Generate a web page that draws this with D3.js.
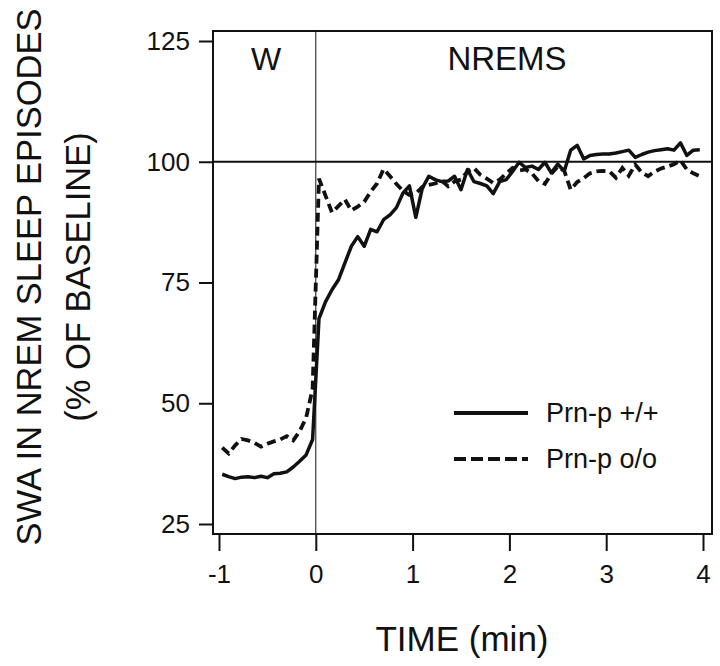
<!DOCTYPE html>
<html>
<head>
<meta charset="utf-8">
<script src="https://cdn.jsdelivr.net/npm/d3@7"></script>
<style>
  html, body { margin: 0; padding: 0; background: #fff; }
  svg text { font-family: "Liberation Sans", Arial, Helvetica, sans-serif; fill: #111; }
</style>
</head>
<body>
<svg id="chart" width="720" height="666"></svg>
<script>
// ---- data, 4-s bins ----
const timePre = [-0.967, -0.9, -0.833, -0.767, -0.7, -0.633, -0.567, -0.5, -0.433, -0.367, -0.3, -0.233, -0.167, -0.1, -0.033];
const timePost = [0.033, 0.1, 0.167, 0.233, 0.3, 0.367, 0.433, 0.5, 0.567, 0.633, 0.7, 0.767, 0.833, 0.9, 0.967,
  1.033, 1.1, 1.167, 1.233, 1.3, 1.367, 1.433, 1.5, 1.567, 1.633, 1.7, 1.767, 1.833, 1.9, 1.967,
  2.033, 2.1, 2.167, 2.233, 2.3, 2.367, 2.433, 2.5, 2.567, 2.633, 2.7, 2.767, 2.833, 2.9, 2.967,
  3.033, 3.1, 3.167, 3.233, 3.3, 3.367, 3.433, 3.5, 3.567, 3.633, 3.7, 3.767, 3.833, 3.9, 3.967];

const wildPre = [35.3, 34.8, 34.4, 34.7, 34.8, 34.6, 34.9, 34.6, 35.4, 35.5, 35.8, 36.8, 38.0, 39.3, 42.5];
const wildPost = [67.5, 71, 73.5, 75.5, 79, 82.5, 84.5, 82.5, 86, 85.5, 88, 89, 90.5, 93.5, 95,
  88.5, 94.5, 97, 96.3, 95.9, 96, 97, 94.2, 98.4, 95.9, 95.5, 95, 93.4, 95.9, 96.3,
  98, 99.9, 98.8, 99.1, 98.4, 99.9, 97.7, 99.5, 98.1, 102.4, 103.4, 100.6, 101.3, 101.5, 101.6,
  101.6, 101.8, 102.1, 102.4, 100.9, 101.5, 102, 102.3, 102.5, 102.7, 102.4, 103.9, 101.3, 102.4, 102.5];

const nullPre = [40.8, 39.6, 41.3, 42.6, 42.3, 41.8, 41.0, 41.6, 42.1, 42.5, 43.2, 42.3, 44.2, 47.0, 53.0];
const nullPost = [96.5, 93, 89.5, 90.8, 92.2, 89.9, 90.7, 91.7, 93.8, 95.5, 98.5, 97, 95.4, 94, 93.1,
  93.4, 94.8, 95.2, 95.5, 96.1, 94.9, 95.9, 96.3, 98, 98.7, 97.3, 96.5, 95.6, 96.3, 97.6,
  98.7, 98.2, 98.4, 97.6, 96, 95.4, 97.5, 99, 98.1, 94.2, 95.8, 96.6, 97.6, 98, 98.1,
  98, 96.7, 98.7, 97.1, 99.4, 97.8, 97, 98, 98.6, 99, 99.5, 100.3, 98.4, 97.6, 97];

const seriesNames = ["Prn-p +/+", "Prn-p o/o"];
const xTicks = [-1, 0, 1, 2, 3, 4];
const yTicks = [25, 50, 75, 100, 125];
const stateLabels = ["W", "NREMS"];
const xTitle = "TIME (min)";
const yTitle1 = "SWA IN NREM SLEEP EPISODES";
const yTitle2 = "(% OF BASELINE)";

// ---- layout ----
const box = { left: 213, right: 712, top: 31, bottom: 534 };
const svg = d3.select("#chart");

const x = d3.scaleLinear().domain([-1, 4]).range([219, 703]);
const y = d3.scaleLinear().domain([25, 125]).range([524, 41]);

const times = timePre.concat(timePost);
const wild = wildPre.concat(wildPost);
const nul = nullPre.concat(nullPost);
const wildData = times.map((t, i) => [t, wild[i]]);
const nullData = times.map((t, i) => [t, nul[i]]);

const ink = "#111";
const fontFam = "'Liberation Sans', Arial, sans-serif";

// frame
svg.append("rect")
  .attr("x", box.left).attr("y", box.top)
  .attr("width", box.right - box.left).attr("height", box.bottom - box.top)
  .attr("fill", "none").attr("stroke", ink).attr("stroke-width", 2);

// reference lines
svg.append("line")
  .attr("x1", box.left).attr("x2", box.right)
  .attr("y1", y(100)).attr("y2", y(100))
  .attr("stroke", ink).attr("stroke-width", 1.8);
svg.append("line")
  .attr("x1", x(0)).attr("x2", x(0))
  .attr("y1", box.top).attr("y2", box.bottom)
  .attr("stroke", ink).attr("stroke-width", 1);

// y axis
const yAxis = d3.axisLeft(y).tickValues(yTicks).tickSize(14).tickPadding(9).tickFormat(d => String(d));
const gy = svg.append("g").attr("transform", `translate(${box.left},0)`).call(yAxis);
gy.select(".domain").remove();
gy.selectAll(".tick line").attr("stroke", ink).attr("stroke-width", 2);
gy.selectAll(".tick text").attr("font-size", 26).attr("fill", ink).style("font-family", fontFam);

// x axis
const xAxis = d3.axisBottom(x).tickValues(xTicks).tickSize(17).tickPadding(14).tickFormat(d => String(d));
const gx = svg.append("g").attr("transform", `translate(0,${box.bottom})`).call(xAxis);
gx.select(".domain").remove();
gx.selectAll(".tick line").attr("stroke", ink).attr("stroke-width", 2);
gx.selectAll(".tick text").attr("font-size", 26).attr("fill", ink).style("font-family", fontFam);

// axis titles
svg.append("text").attr("x", 462).attr("y", 651)
  .attr("text-anchor", "middle").attr("font-size", 35).text(xTitle);
svg.append("text")
  .attr("transform", "translate(41,277) rotate(-90)")
  .attr("text-anchor", "middle").attr("font-size", 34.5).text(yTitle1);
svg.append("text")
  .attr("transform", "translate(90,277) rotate(-90)")
  .attr("text-anchor", "middle").attr("font-size", 34.5).text(yTitle2);

// state labels
svg.append("text").attr("x", 266).attr("y", 70)
  .attr("text-anchor", "middle").attr("font-size", 32).text(stateLabels[0]);
svg.append("text").attr("x", 507).attr("y", 70)
  .attr("text-anchor", "middle").attr("font-size", 33).text(stateLabels[1]);

// lines
const line = d3.line().x(d => x(d[0])).y(d => y(d[1]));
svg.append("path").datum(wildData).attr("d", line)
  .attr("fill", "none").attr("stroke", ink).attr("stroke-width", 3.5)
  .attr("stroke-linejoin", "round");
svg.append("path").datum(nullData).attr("d", line)
  .attr("fill", "none").attr("stroke", ink).attr("stroke-width", 3.8)
  .attr("stroke-dasharray", "9,5");

// legend
const lg = svg.append("g");
const legendRows = [{ name: seriesNames[0], dash: null, yy: 413 }, { name: seriesNames[1], dash: "12,5", yy: 459 }];
legendRows.forEach(r => {
  lg.append("line").attr("x1", 454).attr("x2", 528).attr("y1", r.yy).attr("y2", r.yy)
    .attr("stroke", ink).attr("stroke-width", 4)
    .attr("stroke-dasharray", r.dash);
  lg.append("text").attr("x", 546).attr("y", r.yy + 9).attr("font-size", 27).text(r.name);
});
</script>
</body>
</html>
